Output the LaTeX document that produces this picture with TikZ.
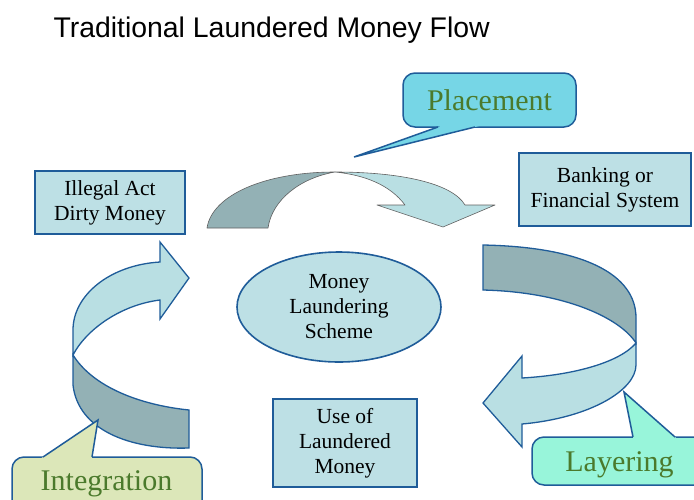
\documentclass[tikz,border=0pt]{standalone}
\usepackage{fontspec}
\setmainfont{Liberation Serif}
\newfontfamily\titlefont{Liberation Sans}
\usetikzlibrary{shapes.geometric,calc}
\definecolor{boxblue}{RGB}{189,224,229}
\definecolor{edgeblue}{RGB}{31,92,153}
\definecolor{arrowdark}{RGB}{147,177,181}
\definecolor{arrowlight}{RGB}{185,223,227}
\definecolor{placefill}{RGB}{118,214,230}
\definecolor{layerfill}{RGB}{152,245,218}
\definecolor{integfill}{RGB}{220,231,185}
\definecolor{labelgreen}{RGB}{75,122,44}
\tikzset{
  topband/.style={draw=gray!75!black, line width=0.6pt, line join=round},
  sideband/.style={draw=edgeblue, line width=1.3pt, line join=miter},
  calloutline/.style={draw=edgeblue, line width=1.5pt},
  calloutlabel/.style={anchor=base, text=labelgreen, font=\fontsize{30}{34}\selectfont}
}
\begin{document}
\begin{tikzpicture}[x=1pt,y=-1pt]
  \clip (0,0) rectangle (694,499);

  \node[anchor=base west, font=\titlefont\fontsize{28.4}{34}\selectfont] (title) at (50,37) {Traditional Laundered Money Flow};

  \draw[topband, fill=arrowdark] (207,228) .. controls (212,195) and (265,172) .. (335,172)
    .. controls (300,178) and (272,200) .. (268,228) -- cycle;
  \draw[topband, fill=arrowlight] (335,172) .. controls (400,172) and (452,183) .. (465,205)
    -- (495,205) -- (443,227) -- (377,205) -- (405,205)
    .. controls (390,185) and (365,175) .. (335,172) -- cycle;

  \draw[sideband, fill=arrowdark] (483,245) .. controls (585,247) and (636,275) .. (636,318)
    -- (636,343) .. controls (620,318) and (565,292) .. (483,290) -- cycle;
  \draw[sideband, fill=arrowlight] (636,343) -- (636,365)
    .. controls (636,390) and (590,418) .. (522,424) -- (522,447) -- (483,403) -- (522,356)
    -- (522,378) .. controls (575,375) and (620,362) .. (636,343) -- cycle;

  \draw[sideband, fill=arrowlight] (189,278) -- (160,242) -- (160,262)
    .. controls (110,265) and (73,295) .. (73,330) -- (73,355)
    .. controls (86,330) and (120,305) .. (160,300) -- (160,319) -- cycle;
  \draw[sideband, fill=arrowdark] (73,355) .. controls (93,387) and (140,405) .. (189,410)
    -- (189,448) .. controls (130,450) and (78,430) .. (73,385) -- cycle;

  \begin{scope}[every node/.style={draw=edgeblue, line width=2.2pt, fill=boxblue, inner sep=0pt,
      align=center, font=\fontsize{21.5}{25}\selectfont}]
    \node[minimum width=150pt, minimum height=63pt] (illegal) at (110,202.5) {Illegal Act\\Dirty Money};
    \node[minimum width=172pt, minimum height=73pt] (banking) at (605,189.5) {Banking or\\Financial System};
    \node[minimum width=144pt, minimum height=88pt] (use) at (345,443) {Use of\\Laundered\\Money};
    \node[ellipse, line width=1.6pt, minimum width=204pt, minimum height=110pt] (scheme) at (339,307) {Money\\Laundering\\Scheme};
  \end{scope}

  \coordinate (placetip) at (354,157);
  \coordinate (layertip) at (624,392);
  \coordinate (integtip) at (98,420);

  \draw[calloutline, fill=placefill, rounded corners=12pt] (403,73) rectangle (576,127);
  \fill[placefill] ($(placetip)!1.1!(438,127)$) -- (placetip) -- ($(placetip)!1.1!(475,127)$) -- cycle;
  \draw[calloutline] (438,127) -- (placetip) -- (475,127);
  \node[calloutlabel] (placement) at (489.5,110) {Placement};

  \draw[calloutline, fill=layerfill, rounded corners=12pt] (532,437) rectangle (712,485);
  \fill[layerfill] ($(layertip)!1.1!(633,437)$) -- (layertip) -- ($(layertip)!1.1!(675,437)$) -- cycle;
  \draw[calloutline] (633,437) -- (layertip) -- (675,437);
  \node[calloutlabel] (layering) at (619.5,471) {Layering};

  \draw[calloutline, fill=integfill, rounded corners=12pt] (12,457) rectangle (202,515);
  \fill[integfill] ($(integtip)!1.1!(43,457)$) -- (integtip) -- ($(integtip)!1.1!(92,457)$) -- cycle;
  \draw[calloutline] (43,457) -- (integtip) -- (92,457);
  \node[calloutlabel] (integration) at (106.5,490) {Integration};

\end{tikzpicture}
\end{document}
